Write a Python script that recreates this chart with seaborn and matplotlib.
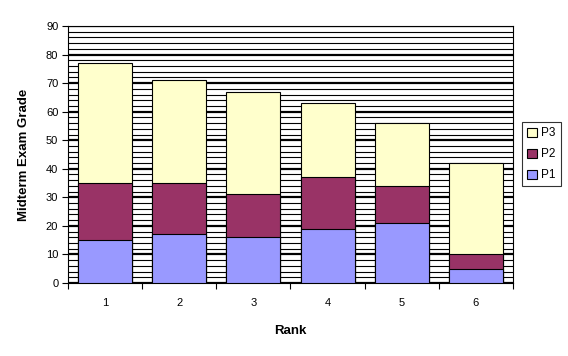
import numpy as np
import pandas as pd
import matplotlib
matplotlib.use("Agg")
import matplotlib.pyplot as plt
from matplotlib.patches import Patch
from matplotlib.ticker import FixedLocator
import seaborn as sns

# values
ranks = ["1", "2", "3", "4", "5", "6"]
p1 = [15, 17, 16, 19, 21, 5]
p2 = [20, 18, 15, 18, 13, 5]
p3 = [42, 36, 36, 26, 22, 32]

colors = {"P1": "#9999FF", "P2": "#993366", "P3": "#FFFFCC"}

plt.rcParams["font.family"] = ["Liberation Sans", "DejaVu Sans"]

df = pd.DataFrame({"rank": ranks, "P1": p1, "P2": p2, "P3": p3})
# cumulative heights so the bars can be overlaid to look stacked
df["c1"] = df["P1"]
df["c2"] = df["P1"] + df["P2"]
df["c3"] = df["P1"] + df["P2"] + df["P3"]

fig = plt.figure(figsize=(5.68, 3.56), dpi=100)
ax = fig.add_axes([68 / 568, (356 - 283) / 356, 445 / 568, 257 / 356])

for col, name in [("c3", "P3"), ("c2", "P2"), ("c1", "P1")]:
    sns.barplot(data=df, x="rank", y=col, color=colors[name], saturation=1,
                width=0.73, edgecolor="black", linewidth=0.8, ax=ax, zorder=3)

ax.set_ylim(0, 90)
ax.set_xlim(-0.5, 5.5)
ax.set_yticks(range(0, 91, 10))
ax.set_yticks(range(0, 91, 2), minor=True)
ax.yaxis.grid(True, which="major", color="black", lw=1.6)
ax.yaxis.grid(True, which="minor", color="black", lw=0.8)
ax.set_axisbelow(True)
ax.tick_params(axis="y", which="minor", length=0)
ax.tick_params(axis="y", which="major", length=4, width=0.8, labelsize=8, pad=3)

ax.xaxis.set_minor_locator(FixedLocator(np.arange(-0.5, 6, 1)))
ax.tick_params(axis="x", which="major", length=0, labelsize=8, pad=11)
ax.tick_params(axis="x", which="minor", length=4, width=0.8)

for s in ax.spines.values():
    s.set_color("black")
    s.set_linewidth(0.8)

ax.set_xlabel("Rank", fontsize=9.5, fontweight="bold")
ax.set_ylabel("Midterm Exam Grade", fontsize=9.5, fontweight="bold")
ax.xaxis.set_label_coords(0.5, -0.163)
ax.yaxis.set_label_coords(-0.085, 0.5)

handles = [Patch(facecolor=colors[n], edgecolor="black", linewidth=0.8, label=n)
           for n in ["P3", "P2", "P1"]]
leg = ax.legend(handles=handles, loc="upper left", bbox_to_anchor=(0.919, 0.657),
                bbox_transform=fig.transFigure, borderaxespad=0, frameon=True,
                fancybox=False, fontsize=8.5, handlelength=0.8, handleheight=0.8,
                handletextpad=0.4, labelspacing=0.75, borderpad=0.45)
leg.get_frame().set_edgecolor("black")
leg.get_frame().set_linewidth(0.8)

fig.savefig("out.png", dpi=100)
